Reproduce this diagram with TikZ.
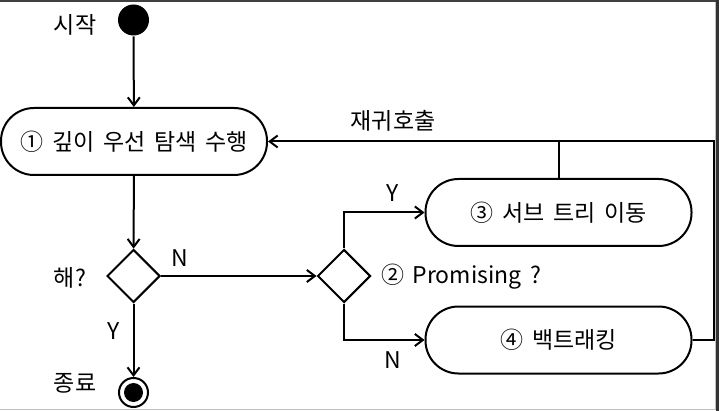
\documentclass[tikz,border=0pt]{standalone}
\usepackage{fontspec}
\setmainfont[WordSpace=1.7]{Noto Sans CJK KR}
\usetikzlibrary{arrows.meta,shapes.geometric}
\begin{document}
\begin{tikzpicture}[x=1pt,y=-1pt,
  line width=2pt,
  arr/.style={draw,-{Straight Barb[length=8pt,width=12pt,line width=2pt]}},
  actbox/.style={draw,rectangle,rounded corners=33pt,minimum width=266pt,minimum height=67pt,inner sep=0pt,font=\fontsize{23}{26}\selectfont},
  decis/.style={draw,diamond,minimum width=53pt,minimum height=53pt,inner sep=0pt},
  lbl/.style={inner sep=0pt,font=\fontsize{23}{26}\selectfont},
  startdot/.style={circle,fill=black,minimum size=31pt,inner sep=0pt},
  enddot/.style={circle,draw,minimum size=29pt,inner sep=0pt}
]
\useasboundingbox (0,0) rectangle (719,411);
% frame
\draw[black!75,line width=2pt] (0,1) -- (719,1);
\draw[black!80,line width=3pt] (717.5,0) -- (717.5,411);
\draw[black!25,line width=1pt] (0,409.5) -- (715,409.5) -- (715,2);

\node[startdot] (start) at (133.5,20) {};
\node[lbl] (tstart) at (75,25) {시작};
\node[actbox] (a1) at (134,141.5) {① 깊이 우선 탐색 수행};
\node[decis] (d1) at (133.5,276) {};
\node[lbl] (tq) at (70,278) {해?};
\node[lbl] (tn1) at (180,258) {N};
\node[lbl] (ty1) at (114,331) {Y};
\node[enddot] (fin) at (133.5,392.5) {};
\fill (fin.center) circle (9.5pt);
\node[lbl] (tend) at (75,383) {종료};
\node[decis] (d2) at (344,276) {};
\node[lbl,anchor=west] (tprom) at (380,277) {② Promising ?};
\node[actbox] (a3) at (558.5,212.5) {③ 서브 트리 이동};
\node[actbox] (a4) at (558.5,340) {④ 백트래킹};
\node[lbl] (ty2) at (393,193) {Y};
\node[lbl] (tn2) at (393,360) {N};
\node[lbl] (trec) at (393,121) {재귀호출};
\coordinate (rc) at (714,340);

\draw[arr] (start) -- (a1);
\draw[arr] (a1) -- (d1);
\draw[arr] (d1) -- (fin);
\draw[arr] (d1.east) -- (d2.west);
\draw[arr] (d2.north) |- (a3.west);
\draw[arr] (d2.south) |- (a4.west);
\draw[arr] (a4.east) -- (rc) |- (a1.east);
\draw (a3.north) -- (a3.north |- a1.east);
\end{tikzpicture}
\end{document}
